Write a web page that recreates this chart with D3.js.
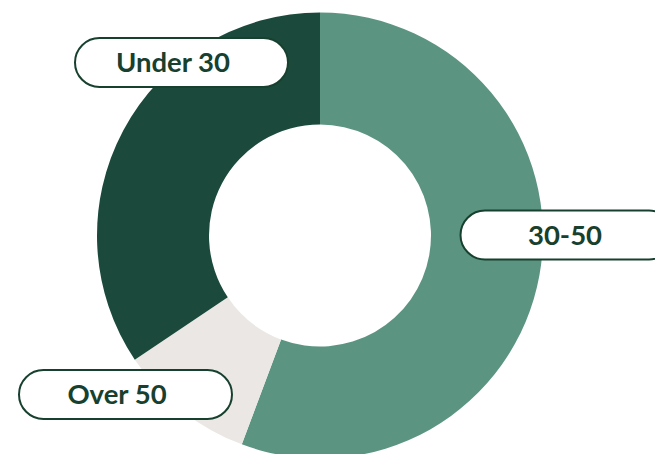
<!DOCTYPE html>
<html>
<head>
<meta charset="utf-8">
<script src="https://cdn.jsdelivr.net/npm/d3@7"></script>
<style>
  html, body { margin: 0; padding: 0; background: #fff; overflow: hidden; }
  text { font-family: "Lato", "Open Sans", sans-serif; font-weight: 700; }
</style>
</head>
<body>
<div id="vis"></div>
<script>
const categories = ["30-50", "Over 50", "Under 30"];
const values = [55.7, 9.9, 34.4];
const colors = ["#5c9482", "#ebe7e4", "#1b4a3c"];

const width = 655;
const height = 454;
const cx = 320;
const cy = 235.5;
const outerR = 223;
const innerR = 111;

// label pills (center x, center y, text x)
const pills = [
  { cx: 567, cy: 235, tx: 565 },
  { cx: 125.5, cy: 394.5, tx: 117 },
  { cx: 181.5, cy: 62.5, tx: 173 }
];
const pillW = 213;
const pillH = 49;
const ink = "#17402f";

const svg = d3.select("#vis")
  .append("svg")
  .attr("width", width)
  .attr("height", height);

const pie = d3.pie().sort(null).value(d => d);
const arc = d3.arc().innerRadius(innerR).outerRadius(outerR);

const g = svg.append("g").attr("transform", `translate(${cx},${cy})`);

g.selectAll("path")
  .data(pie(values))
  .enter()
  .append("path")
  .attr("d", arc)
  .attr("fill", (_d, i) => colors[i]);

const labels = svg.selectAll("g.label")
  .data(categories)
  .enter()
  .append("g")
  .attr("class", "label");

labels.append("rect")
  .attr("x", (_d, i) => pills[i].cx - pillW / 2)
  .attr("y", (_d, i) => pills[i].cy - pillH / 2)
  .attr("width", pillW)
  .attr("height", pillH)
  .attr("rx", pillH / 2)
  .attr("fill", "#fff")
  .attr("stroke", ink)
  .attr("stroke-width", 2);

labels.append("text")
  .attr("x", (_d, i) => pills[i].tx)
  .attr("y", (_d, i) => pills[i].cy)
  .attr("dy", "0.36em")
  .attr("text-anchor", "middle")
  .attr("fill", ink)
  .style("font-size", "27.5px")
  .text(d => d);
</script>
</body>
</html>
